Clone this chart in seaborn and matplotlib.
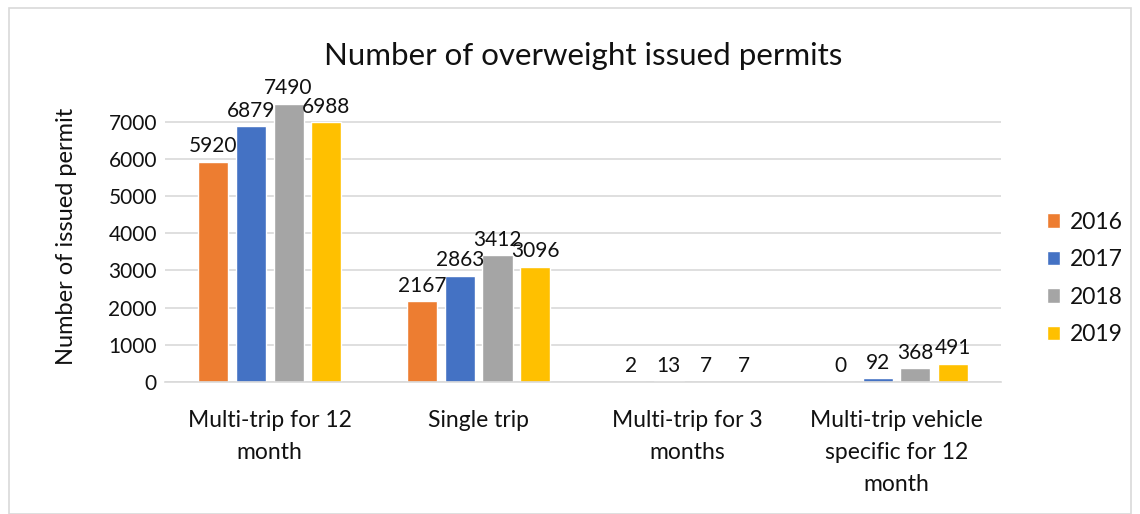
import matplotlib
matplotlib.use("Agg")
import matplotlib.pyplot as plt
import pandas as pd
import seaborn as sns
from matplotlib.patches import Rectangle

categories = ["Multi-trip for 12\nmonth", "Single trip", "Multi-trip for 3\nmonths",
              "Multi-trip vehicle\nspecific for 12\nmonth"]
years = ["2016", "2017", "2018", "2019"]
permits_2016 = [5920, 2167, 2, 0]
permits_2017 = [6879, 2863, 13, 92]
permits_2018 = [7490, 3412, 7, 368]
permits_2019 = [6988, 3096, 7, 491]
colors = ["#ED7D31", "#4472C4", "#A5A5A5", "#FFC000"]

rows = []
for year, vals in zip(years, [permits_2016, permits_2017, permits_2018, permits_2019]):
    for cat, v in zip(categories, vals):
        rows.append({"category": cat, "year": year, "permits": v})
df = pd.DataFrame(rows)

sns.set_theme(style="white")
plt.rcParams["font.family"] = ["Lato", "DejaVu Sans"]
text_color = "#111111"

fig = plt.figure(figsize=(11.4, 5.14), dpi=100)
ax = fig.add_axes([0.145, 0.257, 0.733, 0.568])

sns.barplot(data=df, x="category", y="permits", hue="year", palette=colors,
            width=0.72, gap=0.2, ax=ax, saturation=1)

for cont in ax.containers:
    ax.bar_label(cont, padding=4, fontsize=15, color=text_color)

ax.set_ylim(0, 7860)
ax.set_yticks(range(0, 8000, 1000))
ax.yaxis.grid(True, color="#d9d9d9", linewidth=1.2)
ax.set_axisbelow(True)
for s in ax.spines.values():
    s.set_visible(False)
ax.spines["bottom"].set_visible(True)
ax.spines["bottom"].set_color("#d9d9d9")
ax.spines["bottom"].set_linewidth(1.2)
ax.tick_params(axis="y", length=0, labelsize=15, colors=text_color, pad=6)
ax.tick_params(axis="x", length=0, labelsize=16.5, colors=text_color, pad=20)
for lbl in ax.get_xticklabels():
    lbl.set_linespacing(1.65)
ax.set_xlabel("")
ax.set_ylabel("Number of issued permit", fontsize=17, color=text_color)
ax.yaxis.set_label_coords(-0.106, 0.5)
ax.set_title("Number of overweight issued permits", fontsize=22.5, color=text_color, pad=18)

ax.legend(loc="center left", bbox_to_anchor=(1.03, 0.355), frameon=False, fontsize=16.5,
          handlelength=0.6, handleheight=0.6, labelspacing=0.72, handletextpad=0.4,
          labelcolor=text_color)

fig.patches.append(Rectangle((0.008, 0.0), 0.984, 0.985, transform=fig.transFigure,
                             fill=False, edgecolor="#d9d9d9", linewidth=1.2))

fig.savefig("out.png", dpi=100)
